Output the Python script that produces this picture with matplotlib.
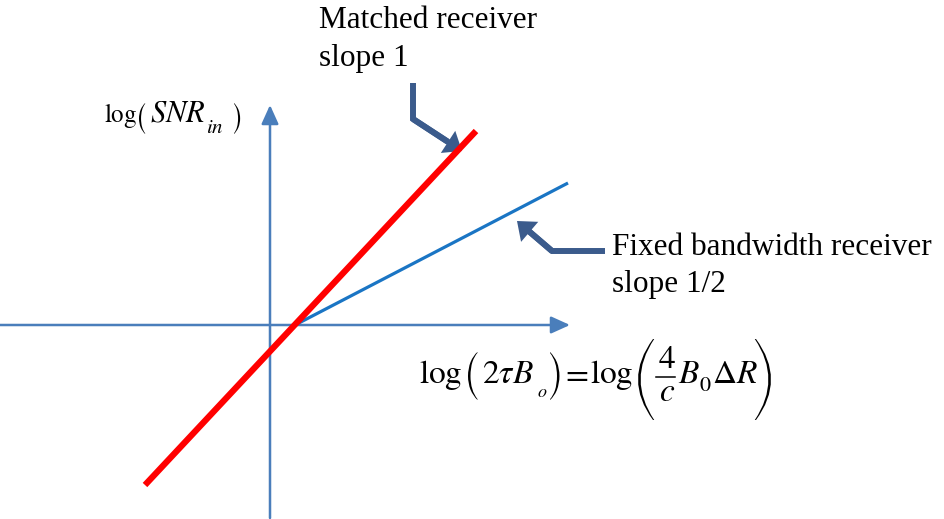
import matplotlib
matplotlib.use("Agg")
import matplotlib.pyplot as plt
from matplotlib.patches import FancyArrowPatch, PathPatch
from matplotlib.path import Path
from matplotlib.textpath import TextPath
from matplotlib.font_manager import FontProperties
from matplotlib.transforms import Affine2D, IdentityTransform

# Lines in log-log units (origin where the two axes cross)
matched_x = [-1.25, 2.06]
matched_y = [-1.60, 1.94]
fixed_x = [0.25, 2.98]
fixed_y = [0.00, 1.42]

# Axis extents
h_axis_x = [-2.70, 3.00]
v_axis_y = [-1.93, 2.20]

# Callout arrows: start, corner, tip
callout_matched = [(1.43, 2.42), (1.43, 2.06), (1.92, 1.74)]
callout_fixed = [(3.35, 0.74), (2.82, 0.74), (2.47, 1.04)]

label_matched = ["Matched receiver", "slope 1"]
label_fixed = ["Fixed bandwidth receiver", "slope 1/2"]

plt.rcParams["mathtext.fontset"] = "stix"
plt.rcParams["font.family"] = ["Liberation Serif", "DejaVu Serif"]

axis_col = "#4a7ebb"
callout_col = "#3b5b8c"
W, H = 944, 519

fig = plt.figure(figsize=(W / 100, H / 100), dpi=100)
ax = fig.add_axes([0, 0, 1, 1])
ax.set_xlim(-2.70, 6.74)
ax.set_ylim(-1.94, 3.25)
ax.axis("off")

# Coordinate axes with arrow heads
for a, b in [((h_axis_x[0], 0), (h_axis_x[1], 0)),
             ((0, v_axis_y[0]), (0, v_axis_y[1]))]:
    ax.add_patch(FancyArrowPatch(a, b,
                                 arrowstyle="-|>,head_length=11.5,head_width=5.2",
                                 mutation_scale=1, lw=1.8, color=axis_col,
                                 shrinkA=0, shrinkB=0))

# Response lines
ax.plot(fixed_x, fixed_y, color="#1a75c4", lw=2.3, solid_capstyle="butt")
ax.plot(matched_x, matched_y, color="#ff0000", lw=4.5, solid_capstyle="butt")


def bent_arrow(pts):
    (x0, y0), (x1, y1), (x2, y2) = pts
    fx = x1 + (x2 - x1) * 0.7
    fy = y1 + (y2 - y1) * 0.7
    ax.plot([x0, x1, fx], [y0, y1, fy], color=callout_col, lw=4.3,
            solid_joinstyle="miter", solid_capstyle="butt")
    ax.add_patch(FancyArrowPatch((x1, y1), (x2, y2),
                                 arrowstyle="simple,head_length=12,head_width=19,tail_width=4.3",
                                 mutation_scale=1, color=callout_col, lw=0,
                                 shrinkA=0, shrinkB=0))


bent_arrow(callout_matched)
bent_arrow(callout_fixed)


# Text helpers in pixel positions (y measured from the top)
def put(s, x, y, size, va="baseline"):
    fig.text(x / W, 1 - y / H, s, fontsize=size, va=va, ha="left")


def paren(ch, x0, y_top, y_bot, family="STIXSizeOneSym"):
    # delimiter from a sized STIX glyph, scaled to height
    tp = TextPath((0, 0), ch, size=100, prop=FontProperties(family=family))
    bb = tp.get_extents()
    s = (y_bot - y_top) / bb.height
    tr = (Affine2D().translate(-bb.x0, -bb.y0).scale(s, s)
          .translate(x0, H - y_bot))
    fig.add_artist(PathPatch(tr.transform_path(tp), transform=IdentityTransform(),
                             facecolor="black", lw=0))


def big_paren(x_out, y_top, y_bot, w=15, stroke=2.6, side="left"):
    # thin crescent-shaped bracket; x_out is the outer bulge
    yt, yb = H - y_top, H - y_bot
    ym = (yt + yb) / 2
    d = 1 if side == "left" else -1
    tip = x_out + d * w
    tip_in = tip + d * 1.2
    c_out = x_out - d * w
    c_in = 2 * (x_out + d * stroke) - tip_in
    verts = [(tip, yt), (c_out, ym), (tip, yb), (tip_in, yb),
             (c_in, ym), (tip_in, yt), (tip, yt)]
    codes = [Path.MOVETO, Path.CURVE3, Path.CURVE3, Path.LINETO,
             Path.CURVE3, Path.CURVE3, Path.CLOSEPOLY]
    fig.add_artist(PathPatch(Path(verts, codes), transform=IdentityTransform(),
                             facecolor="black", lw=0))


# Line labels
put(label_matched[0], 319, 28, 22.5)
put(label_matched[1], 319, 66, 22.5)
put(label_fixed[0], 612, 255, 22.5)
put(label_fixed[1], 612, 292, 22.5)

# y label: log(SNR_in)
put(r"$\log$", 104, 122, 18)
paren("(", 139, 103, 134)
put(r"$SNR$", 150, 122, 22)
put(r"$in$", 206, 133, 15)
paren(")", 234, 103, 134)

# x label: log(2 tau B_o) = log(4/c B_0 dR)
put(r"$\log$", 419, 383, 24)
paren("(", 468, 352, 400, "STIXSizeTwoSym")
put(r"$2\tau B$", 482, 383, 24)
put(r"$o$", 537, 397, 13)
paren(")", 550, 352, 400, "STIXSizeTwoSym")
put(r"$=$", 561, 383, 24)
put(r"$\log$", 590, 383, 24)
big_paren(638, 339, 420, side="left")
put(r"$4$", 658, 368, 24)
fig.add_artist(plt.Line2D([656 / W, 675 / W], [1 - 377 / H, 1 - 377 / H],
                          color="black", lw=1.1))
put(r"$c$", 659, 401, 24)
put(r"$B$", 678, 383, 24)
put(r"$0$", 699, 391, 16)
put(r"$\Delta R$", 712, 383, 24)
big_paren(771, 339, 420, side="right")

fig.savefig("out.png", dpi=100)
